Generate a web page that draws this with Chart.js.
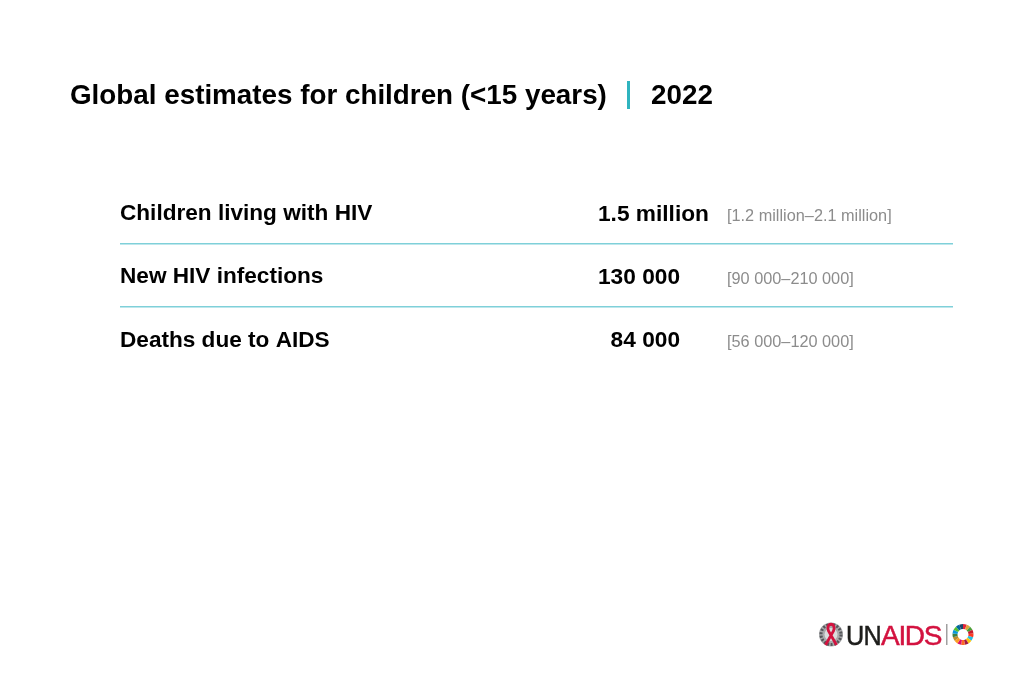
<!DOCTYPE html>
<html>
<head>
<meta charset="utf-8">
<title>Global estimates for children</title>
<script src="https://cdn.jsdelivr.net/npm/chart.js@4/dist/chart.umd.min.js"></script>
<style>
  html, body { margin: 0; background: #fff; }
  #wrap { width: 1024px; height: 683px; }
</style>
</head>
<body>
<div id="wrap"><canvas id="tabla" width="1024" height="683"></canvas></div>
<script>
const titleText = 'Global estimates for children (<15 years)';
const yearText = '2022';
const categories = ['Children living with HIV', 'New HIV infections', 'Deaths due to AIDS'];
const centralValues = [1500000, 130000, 84000];
const centralLabels = ['1.5 million', '130 000', '  84 000'];
const rangeLabels = ['[1.2 million–2.1 million]', '[90 000–210 000]', '[56 000–120 000]'];
const sdgColors = ['#e5243b', '#dda63a', '#4c9f38', '#c5192d', '#ff3a21', '#26bde2', '#fcc30b', '#a21942', '#fd6925',
  '#dd1367', '#fd9d24', '#bf8b2e', '#3f7e44', '#0a97d9', '#56c02b', '#00689d', '#19486a'];

const FONT = '"Liberation Sans", Arial, sans-serif';

// Columnas de la tabla, fila por fila
const tablePlugin = {
  id: 'tablePlugin',
  afterDatasetsDraw(chart) {
    const { ctx, chartArea, scales } = chart;
    ctx.save();
    ctx.textBaseline = 'middle';
    ctx.textAlign = 'left';
    categories.forEach((cat, i) => {
      const y = scales.y.getPixelForValue(i);
      ctx.fillStyle = '#000';
      ctx.font = 'bold 22.7px ' + FONT;
      ctx.fillText(centralLabels[i], chartArea.left + 478, y + 2.5);
      ctx.fillStyle = '#8c8c8c';
      ctx.font = '16.3px ' + FONT;
      ctx.fillText(rangeLabels[i], chartArea.left + 607, y + 4.5);
    });
    ctx.restore();
  }
};

// Barra turquesa y año a continuación del título
const headerPlugin = {
  id: 'headerPlugin',
  afterDraw(chart) {
    const { ctx } = chart;
    ctx.save();
    ctx.fillStyle = '#2fb4bf';
    ctx.fillRect(627, 81, 3, 28);
    ctx.fillStyle = '#000';
    ctx.font = 'bold 27.8px ' + FONT;
    ctx.textBaseline = 'middle';
    ctx.fillText(yearText, 651, 96);
    ctx.restore();
  }
};

// Logo abajo a la derecha
const logoPlugin = {
  id: 'logoPlugin',
  afterDraw(chart) {
    const { ctx } = chart;
    ctx.save();

    // emblema
    ctx.fillStyle = '#a9aaac';
    ctx.beginPath();
    ctx.arc(831, 634.5, 12, 0, Math.PI * 2);
    ctx.fill();
    ctx.strokeStyle = '#55565a';
    ctx.lineWidth = 3;
    ctx.setLineDash([2, 1.5]);
    ctx.beginPath();
    ctx.arc(831, 634.5, 10, 0, Math.PI * 2);
    ctx.stroke();
    ctx.setLineDash([]);
    ctx.fillStyle = '#dcdcdd';
    ctx.beginPath();
    ctx.arc(831, 634.5, 6.5, 0, Math.PI * 2);
    ctx.fill();
    ctx.strokeStyle = '#d3123f';
    ctx.lineWidth = 2.8;
    ctx.beginPath();
    ctx.moveTo(825.5, 645);
    ctx.lineTo(833.5, 631);
    ctx.bezierCurveTo(837, 622, 825, 622, 828.5, 631);
    ctx.lineTo(836.5, 645);
    ctx.stroke();

    // letras
    ctx.textBaseline = 'alphabetic';
    ctx.font = '28px ' + FONT;
    ctx.lineWidth = 0.5;
    ctx.fillStyle = '#1d1d1b';
    ctx.strokeStyle = '#1d1d1b';
    ctx.save();
    ctx.translate(846, 645);
    ctx.scale(0.9, 1);
    ctx.letterSpacing = '-0.8px';
    ctx.fillText('UN', 0, 0);
    ctx.strokeText('UN', 0, 0);
    ctx.restore();
    ctx.fillStyle = '#d3123f';
    ctx.strokeStyle = '#d3123f';
    ctx.letterSpacing = '-1.3px';
    ctx.fillText('AIDS', 881, 645);
    ctx.strokeText('AIDS', 881, 645);
    ctx.letterSpacing = '0px';

    // separador
    ctx.fillStyle = '#a0a0a0';
    ctx.fillRect(946, 624, 1.5, 21);

    // anillo ODS
    const step = Math.PI * 2 / sdgColors.length;
    ctx.lineWidth = 5;
    sdgColors.forEach((c, i) => {
      const start = -Math.PI / 2 + i * step;
      ctx.strokeStyle = c;
      ctx.beginPath();
      ctx.arc(963, 634.5, 8, start, start + step);
      ctx.stroke();
    });
    ctx.restore();
  }
};

new Chart(document.getElementById('tabla').getContext('2d'), {
  type: 'bar',
  data: {
    labels: categories,
    datasets: [{
      label: 'Estimate',
      data: centralValues,
      backgroundColor: 'rgba(0,0,0,0)'
    }]
  },
  plugins: [tablePlugin, headerPlugin, logoPlugin],
  options: {
    indexAxis: 'y',
    responsive: false,
    animation: false,
    events: [],
    layout: { padding: { left: 70, right: 71, bottom: 313 } },
    plugins: {
      legend: { display: false },
      tooltip: { enabled: false },
      title: {
        display: true,
        text: titleText,
        align: 'start',
        color: '#000',
        font: { family: FONT, size: 27.8, weight: 'bold', lineHeight: 1.2 },
        padding: { top: 79.7, bottom: 67.3 }
      }
    },
    scales: {
      x: { display: false, min: 0, max: 1500000 },
      y: {
        afterFit(scale) { scale.width = 50; },
        border: { display: false },
        grid: {
          offset: true,
          drawTicks: false,
          lineWidth: 1.5,
          // la última línea no tiene índice de tick: queda transparente
          color: ctx => (ctx.index >= 1 && ctx.index < categories.length) ? '#7fd0d9' : 'rgba(0,0,0,0)'
        },
        ticks: {
          mirror: true,
          padding: 0,
          labelOffset: 2,
          color: '#000',
          font: { family: FONT, size: 22.6, weight: 'bold' }
        }
      }
    }
  }
});
</script>
</body>
</html>
